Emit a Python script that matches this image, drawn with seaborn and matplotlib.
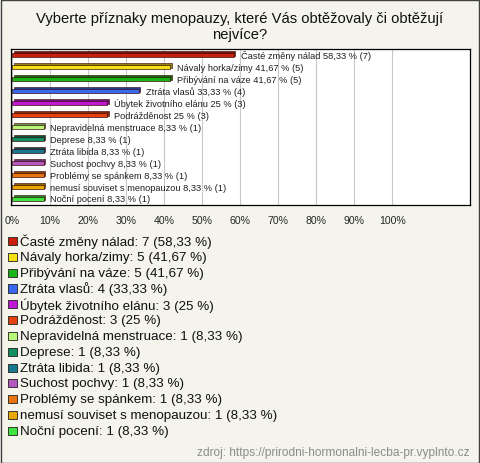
import matplotlib
matplotlib.use("Agg")
import matplotlib.pyplot as plt
import matplotlib.colors as mcolors
import seaborn as sns
import pandas as pd
import numpy as np

# data
categories = [
    "Časté změny nálad",
    "Návaly horka/zimy",
    "Přibývání na váze",
    "Ztráta vlasů",
    "Úbytek životního elánu",
    "Podrážděnost",
    "Nepravidelná menstruace",
    "Deprese",
    "Ztráta libida",
    "Suchost pochvy",
    "Problémy se spánkem",
    "nemusí souviset s menopauzou",
    "Noční pocení",
]
counts = [7, 5, 5, 4, 3, 3, 1, 1, 1, 1, 1, 1, 1]
percents = [58.33, 41.67, 41.67, 33.33, 25, 25, 8.33, 8.33, 8.33, 8.33, 8.33, 8.33, 8.33]
colors = [
    "#c8200c", "#f4e010", "#18b418", "#3868f0", "#c018d4", "#e44010",
    "#b8f878", "#109060", "#187890", "#b458c0", "#e87410", "#e8a800",
    "#40e440",
]
x_ticks = [0, 10, 20, 30, 40, 50, 60, 70, 80, 90, 100]
title = "Vyberte příznaky menopauzy, které Vás obtěžovaly či obtěžují\nnejvíce?"
source = "zdroj: https://prirodni-hormonalni-lecba-pr.vyplnto.cz"


def fmt_pct(p):
    s = f"{p:.2f}".rstrip("0").rstrip(".")
    return s.replace(".", ",") + " %"


def darker(c, f=0.6):
    r, g, b = mcolors.to_rgb(c)
    return (r * f, g * f, b * f)


df = pd.DataFrame({"category": categories, "count": counts, "pct": percents})
df["row"] = np.arange(len(df))

sns.set_style("white")
plt.rcParams["font.family"] = ["Liberation Sans", "DejaVu Sans"]

bg = "#f4f3ec"
W, H = 480, 464
fig = plt.figure(figsize=(W / 100, H / 100), dpi=100, facecolor=bg)

# plot box: x 11..470, y 50..206 (pixels)
ax = fig.add_axes([11 / W, 1 - 206 / H, (470 - 11) / W, (206 - 50) / H])
ax.set_facecolor("white")

pos = df["row"].to_numpy()
# 3d depth face behind the bars
ax.barh(pos - 0.11, df["pct"], left=0.45, height=0.4,
        color=[darker(c) for c in colors], edgecolor="#300000",
        linewidth=0.4, zorder=2)
sns.barplot(data=df, x="pct", y="category", hue="category", palette=colors,
            saturation=1, legend=False, width=0.4, orient="h", ax=ax,
            edgecolor="#401010", linewidth=0.5, zorder=3)

for i, (p, n) in enumerate(zip(percents, counts)):
    ax.text(p + 1.8, i, f"{categories[i]} {fmt_pct(p)} ({n})",
            va="center", ha="left", fontsize=6.7, color="#202020", zorder=4)

ax.set_xlim(-0.26, 120.5)
ax.set_ylim(len(categories) - 0.5, -0.5)
ax.set_xticks(x_ticks)
ax.set_xticklabels([f"{t}%" for t in x_ticks], fontsize=7.6)
ax.set_yticks([])
ax.set_xlabel("")
ax.set_ylabel("")
ax.tick_params(axis="x", length=0, pad=7)
ax.grid(axis="x", color="#c8c8c8", linewidth=0.8, zorder=0)
ax.set_axisbelow(True)
for sp in ax.spines.values():
    sp.set_color("black")
    sp.set_linewidth(0.9)

fig.text(0.5, 1 - 27 / H, title, ha="center", va="center", fontsize=10.6,
         color="#101010", linespacing=1.1)

# legend as its own axes so the rows are evenly spaced
lax = fig.add_axes([0, 1 - 440 / H, 1, (440 - 234) / H])
lax.set_xlim(0, W)
lax.set_ylim(12.51, -0.505)
lax.axis("off")
sns.scatterplot(data=df, x=np.full(len(df), 12.5), y="row", hue="category",
                palette=colors, marker="s", s=34, edgecolor="#202020",
                linewidth=0.6, legend=False, ax=lax)
for i, (c, n, p) in enumerate(zip(categories, counts, percents)):
    lax.text(19.5, i, f"{c}: {n} ({fmt_pct(p)})", va="center", ha="left",
             fontsize=9.6, color="#101010")

fig.text(470 / W, 1 - 453 / H, source, ha="right", va="center", fontsize=8.6,
         color="#8c8c8c")

# outer frame of the picture
fig.patches.append(plt.Rectangle((0.5 / W, 0.5 / H), 1 - 1.5 / W, 1 - 1.5 / H,
                                 transform=fig.transFigure, fill=False,
                                 edgecolor="#404040", linewidth=1.0))

fig.savefig("out.png", dpi=100, facecolor=bg)
